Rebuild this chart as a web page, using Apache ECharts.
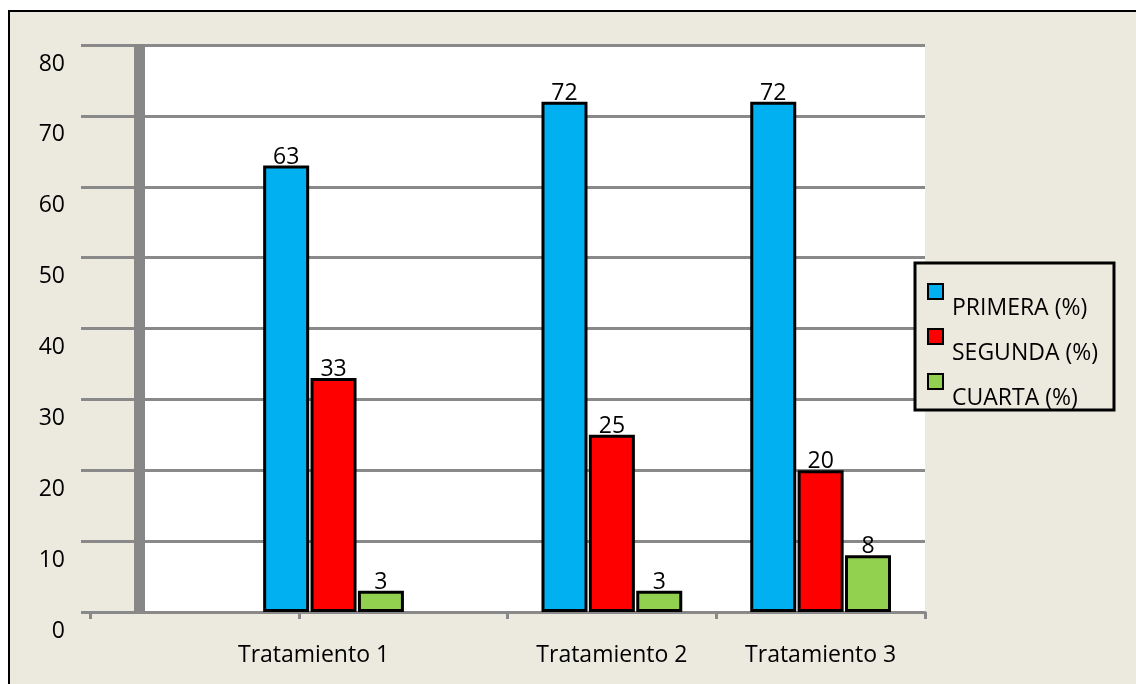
<!DOCTYPE html>
<html>
<head>
<meta charset="utf-8">
<script src="https://cdn.jsdelivr.net/npm/echarts@6/dist/echarts.min.js"></script>
<style>
  html, body { margin: 0; padding: 0; background: #ffffff; }
  #wrap { position: relative; width: 1136px; height: 684px; overflow: hidden; }
  #frame { position: absolute; left: 8px; top: 10px; width: 1140px; height: 690px;
           border-left: 2px solid #000; border-top: 2px solid #000; background: #ECEADF; }
  #chart { position: absolute; left: 0; top: 0; width: 1136px; height: 684px; }
</style>
</head>
<body>
<div id="wrap">
  <div id="frame"></div>
  <div id="chart"></div>
</div>
<script>
// datos del grafico
var categories = ['Tratamiento 1', 'Tratamiento 2', 'Tratamiento 3'];
var seriesNames = ['PRIMERA (%)', 'SEGUNDA (%)', 'CUARTA (%)'];
var primera = [63, 72, 72];
var segunda = [33, 25, 20];
var cuarta = [3, 3, 8];
var yMin = 0, yMax = 80, yStep = 10;

// las barras no van centradas en las marcas del eje: se usan 12 huecos ocultos
var slotCount = 12;
var slotOf = [3, 7, 10];
var colores = ['#00B0F0', '#FF0000', '#92D050'];
var gris = '#898989';
var fuente = 'Open Sans';

function toSlots(vals) {
  var out = [];
  for (var i = 0; i < slotCount; i++) out.push('-');
  for (var j = 0; j < vals.length; j++) out[slotOf[j]] = vals[j];
  return out;
}
var slotLabels = toSlots(categories).map(function (v) { return v === '-' ? '' : v; });

var myChart = echarts.init(document.getElementById('chart'));

function serie(nombre, vals, color) {
  return {
    name: nombre,
    type: 'bar',
    xAxisIndex: 1,
    yAxisIndex: 0,
    barWidth: 46,
    barGap: '3%',
    data: toSlots(vals),
    itemStyle: { color: color, borderColor: '#000', borderWidth: 3 },
    label: {
      show: true, position: 'top', distance: -3,
      color: '#000', fontFamily: fuente, fontSize: 23
    }
  };
}

var option = {
  backgroundColor: 'transparent',
  animation: false,
  grid: [
    { left: 90, right: 211, top: 45, bottom: 72, show: false },
    { left: 145, right: 211, top: 45, bottom: 72, show: true,
      backgroundColor: '#ffffff', borderWidth: 0 }
  ],
  legend: {
    orient: 'vertical',
    left: 915, top: 263,
    padding: [0, 16, 0, 12],
    backgroundColor: '#ECEADF',
    borderColor: '#000', borderWidth: 3,
    itemWidth: 15, itemHeight: 15,
    itemGap: -12,
    icon: 'rect',
    data: seriesNames,
    formatter: function (name) { return '{t|' + name + '}'; },
    textStyle: {
      color: '#000', fontFamily: fuente, fontSize: 23,
      rich: {
        t: { color: '#000', fontFamily: fuente, fontSize: 23, lineHeight: 24,
             padding: [34, 0, 0, 4] }
      }
    }
  },
  xAxis: [
    {
      type: 'category', gridIndex: 0, position: 'bottom',
      data: ['', '', '', ''],
      boundaryGap: true,
      axisLine: { show: true, lineStyle: { color: gris, width: 3 } },
      axisTick: { show: true, length: 7, lineStyle: { color: gris, width: 3 } },
      axisLabel: { show: false },
      splitLine: { show: false }
    },
    {
      type: 'category', gridIndex: 0, position: 'bottom',
      data: slotLabels,
      axisLine: { show: false },
      axisTick: { show: false },
      splitLine: { show: false },
      axisLabel: {
        interval: 0, margin: 32,
        color: '#000', fontFamily: fuente, fontSize: 23,
        formatter: function (v, i) {
          if (i === slotOf[0]) return '{s|' + v + '}';
          return v;
        },
        rich: {
          s: { color: '#000', fontFamily: fuente, fontSize: 23, padding: [0, 40, 0, 0] }
        }
      }
    },
    { type: 'value', gridIndex: 1, show: false }
  ],
  yAxis: [
    {
      type: 'value', gridIndex: 0,
      min: yMin, max: yMax, interval: yStep,
      axisLine: { show: false },
      axisTick: { show: true, length: 9, lineStyle: { color: gris, width: 3 } },
      splitLine: { show: true, lineStyle: { color: gris, width: 3 } },
      axisLabel: {
        margin: 25, color: '#000', fontFamily: fuente, fontSize: 23,
        formatter: function (v) { return '{v|' + v + '}'; },
        rich: {
          v: { color: '#000', fontFamily: fuente, fontSize: 23, lineHeight: 24,
               padding: [38, 0, 0, 0] }
        }
      }
    },
    {
      type: 'value', gridIndex: 0, position: 'left', offset: -49.5,
      min: yMin, max: yMax,
      axisLine: { show: true, lineStyle: { color: '#878787', width: 11, cap: 'butt' } },
      axisTick: { show: false },
      axisLabel: { show: false },
      splitLine: { show: false }
    },
    { type: 'value', gridIndex: 1, show: false }
  ],
  series: [
    serie(seriesNames[0], primera, colores[0]),
    serie(seriesNames[1], segunda, colores[1]),
    serie(seriesNames[2], cuarta, colores[2])
  ]
};
myChart.setOption(option);
</script>
</body>
</html>
